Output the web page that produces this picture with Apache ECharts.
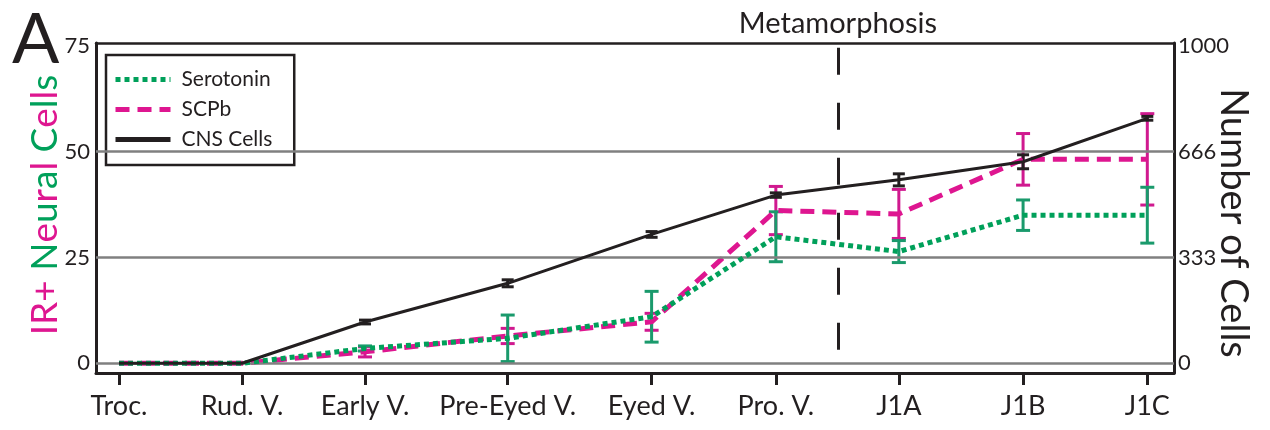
<!DOCTYPE html>
<html>
<head>
<meta charset="utf-8">
<script src="https://cdn.jsdelivr.net/npm/echarts@6/dist/echarts.min.js"></script>
<style>html,body{margin:0;padding:0;background:#fff;}#c{width:1270px;height:430px;}</style>
</head>
<body>
<div id="c"></div>
<script>
// ---- data ----
const stages = ['Troc.', 'Rud. V.', 'Early V.', 'Pre-Eyed V.', 'Eyed V.', 'Pro. V.', 'J1A', 'J1B', 'J1C'];
const stagePos = [0, 1, 2, 3.16, 4.33, 5.34, 6.34, 7.35, 8.36];
const serotonin = [0, 0, 3.5, 5.9, 11.0, 29.9, 26.4, 35.0, 35.0];
const serotoninErr = [0, 0, 0.6, 5.5, 6.0, 5.9, 2.6, 3.6, 6.6];
const scpb = [0, 0, 2.7, 6.45, 9.8, 36.1, 35.3, 48.2, 48.2];
const scpbErr = [0, 0, 1.2, 1.8, 2.0, 5.7, 5.8, 6.1, 10.8];
const cns = [0, 0, 130, 252, 406, 530, 578, 635, 772];
const cnsErr = [0, 0, 6, 11, 9, 7, 19, 22, 6];
const leftTicks = [0, 25, 50, 75];
const rightTicks = [0, 333, 666, 1000];
const gridLevels = [0, 25, 50];
const metamorphosisX = 5.845;
const metamorphosisSpan = [74.6, 1.9];

const GREEN = '#00a05a', GREEN_ERR = '#1a9a6c', MAG = '#de1690', MAG_ERR = '#d0198f', BLK = '#231f20';
const FONT = 'Lato';

function pts(vals) { return vals.map((v, i) => [stagePos[i], v]); }
function errs(vals, e) {
  const out = [];
  vals.forEach((v, i) => { if (v !== null && e[i] > 0) out.push([stagePos[i], v - e[i], v + e[i]]); });
  return out;
}
function errSeries(name, data, color, yIdx, capW) {
  return {
    type: 'custom', name: name, yAxisIndex: yIdx, silent: true, z: 3,
    data: data,
    renderItem: function (params, api) {
      const x = api.value(0), lo = api.value(1), hi = api.value(2);
      const a = api.coord([x, lo]), b = api.coord([x, hi]);
      const st = { stroke: color, lineWidth: 3 };
      return { type: 'group', children: [
        { type: 'line', shape: { x1: a[0], y1: a[1], x2: b[0], y2: b[1] }, style: st },
        { type: 'line', shape: { x1: a[0] - capW, y1: a[1], x2: a[0] + capW, y2: a[1] }, style: st },
        { type: 'line', shape: { x1: b[0] - capW, y1: b[1], x2: b[0] + capW, y2: b[1] }, style: st }
      ]};
    }
  };
}

const chart = echarts.init(document.getElementById('c'), null, { renderer: 'canvas' });
const cellTitle = '{m|IR+} {g|N}{m|e}{g|u}{m|r}{g|a}{m|l} {g|C}{m|e}{g|l}{m|l}{g|s}';
const TF = '37px ' + FONT;

chart.setOption({
  animation: false,
  textStyle: { fontFamily: FONT },
  grid: { left: 96, right: 96, top: 43, bottom: 57, containLabel: false },
  legend: {
    orient: 'vertical', left: 106, top: 55,
    data: ['Serotonin', 'SCPb', 'CNS Cells'],
    backgroundColor: '#fff', borderColor: BLK, borderWidth: 2.5, borderRadius: 0,
    padding: [14, 22, 15, 7], itemGap: 9, itemWidth: 55, itemHeight: 21,
    itemStyle: { opacity: 0 },
    lineStyle: { width: 5 },
    textStyle: { fontFamily: FONT, fontSize: 21, color: BLK, padding: [0, 0, 0, 6] }
  },
  xAxis: [{
    type: 'value', min: -0.187, max: 8.577,
    axisLine: { show: true, onZero: false, lineStyle: { color: BLK, width: 3 } },
    axisTick: { show: true, customValues: stagePos, length: 12, lineStyle: { color: BLK, width: 3 } },
    axisLabel: { customValues: stagePos, margin: 20, fontSize: 27, color: BLK, fontFamily: FONT,
      formatter: function (v) { const i = stagePos.indexOf(v); return i >= 0 ? stages[i] : ''; } },
    splitLine: { show: false }
  }, {
    type: 'value', position: 'top', min: -0.187, max: 8.577,
    axisLine: { show: true, onZero: false, lineStyle: { color: BLK, width: 2.5 } },
    axisTick: { show: false }, axisLabel: { show: false }, splitLine: { show: false }
  }],
  yAxis: [{
    type: 'value', min: -2.3, max: 75.7, position: 'left',
    axisLine: { show: true, onZero: false, lineStyle: { color: BLK, width: 3 } },
    axisTick: { show: false },
    axisLabel: { customValues: leftTicks, fontSize: 22, color: BLK, margin: 6, fontFamily: FONT },
    splitLine: { show: false }
  }, {
    type: 'value', min: -30.67, max: 1009.3, position: 'right',
    axisLine: { show: true, onZero: false, lineStyle: { color: BLK, width: 3 } },
    axisTick: { show: false },
    axisLabel: { customValues: rightTicks, fontSize: 22, color: BLK, margin: 4, fontFamily: FONT,
      formatter: function (v) { return String(Math.round(v)); } },
    splitLine: { show: false }
  }],
  series: [
    {
      type: 'line', name: 'grid', data: [], silent: true, z: 1,
      markLine: {
        silent: true, symbol: 'none', label: { show: false },
        lineStyle: { color: '#808080', width: 2.5, type: 'solid' },
        data: gridLevels.map(v => ({ yAxis: v }))
      }
    },
    {
      type: 'line', name: 'meta', data: [], silent: true, z: 1,
      markLine: {
        silent: true, symbol: 'none',
        lineStyle: { color: BLK, width: 3, type: [27, 28] },
        label: { show: true, position: 'start', formatter: 'Metamorphosis', fontSize: 29, color: BLK, fontFamily: FONT, distance: 10 },
        data: [[{ coord: [metamorphosisX, metamorphosisSpan[0]] }, { coord: [metamorphosisX, metamorphosisSpan[1]] }]]
      }
    },
    errSeries('scpbErr', errs(scpb, scpbErr), MAG_ERR, 0, 7),
    errSeries('serErr', errs(serotonin, serotoninErr), GREEN_ERR, 0, 7),
    {
      type: 'line', name: 'SCPb', data: pts(scpb), yAxisIndex: 0, z: 4,
      symbol: 'none', lineStyle: { color: MAG, width: 5, type: [14, 8] }, itemStyle: { color: MAG }
    },
    {
      type: 'line', name: 'Serotonin', data: pts(serotonin), yAxisIndex: 0, z: 5,
      symbol: 'none', lineStyle: { color: GREEN, width: 5, type: [5, 4] }, itemStyle: { color: GREEN }
    },
    {
      type: 'line', name: 'CNS Cells', data: pts(cns), yAxisIndex: 1, z: 6,
      symbol: 'none', lineStyle: { color: BLK, width: 3 }, itemStyle: { color: BLK }
    },
    errSeries('cnsErr', errs(cns, cnsErr), BLK, 1, 6)
  ],
  graphic: [
    { type: 'text', left: 12, top: 5, style: { text: 'A', font: '70px ' + FONT, fill: BLK } },
    { type: 'text', x: 27, y: 205, rotation: Math.PI / 2,
      style: { text: cellTitle, font: TF, align: 'center', verticalAlign: 'top',
        rich: { m: { fill: MAG, font: TF }, g: { fill: GREEN, font: TF } } } },
    { type: 'text', x: 1252, y: 223, rotation: -Math.PI / 2,
      style: { text: 'Number of Cells', font: '38px ' + FONT, fill: BLK, align: 'center', verticalAlign: 'top' } }
  ]
});
</script>
</body>
</html>
